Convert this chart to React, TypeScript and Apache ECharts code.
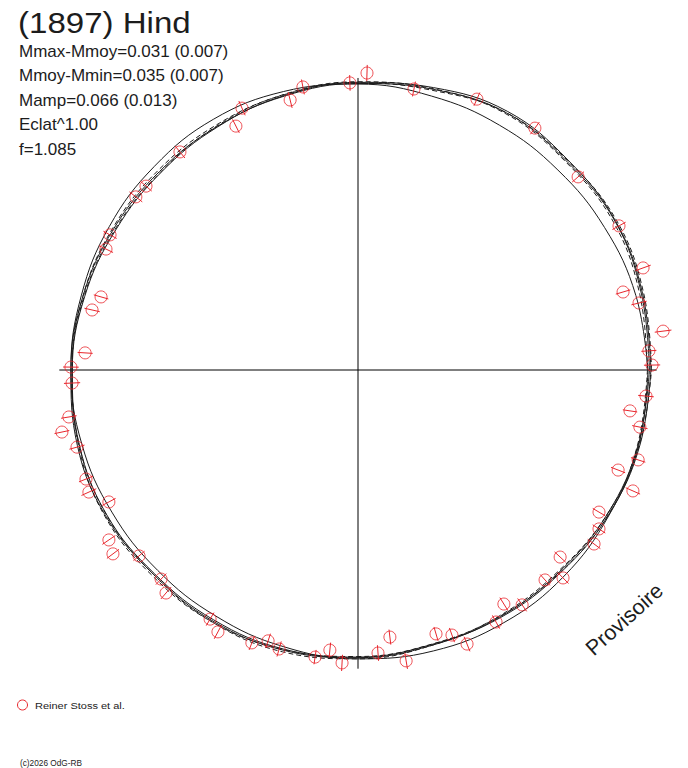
import React, { useEffect, useRef } from "react";
import * as echarts from "echarts";

const TITLE = "(1897) Hind";
const INFO_LINES = [
  "Mmax-Mmoy=0.031 (0.007)",
  "Mmoy-Mmin=0.035 (0.007)",
  "Mamp=0.066 (0.013)",
  "Eclat^1.00",
  "f=1.085",
];
const LEGEND_LABEL = "Reiner Stoss et al.";
const WATERMARK = "Provisoire";
const COPYRIGHT = "(c)2026 OdG-RB";

// observations (polar plot, unit = mean radius)
const POINT_X = [
  -0.4, -0.421, -0.234, -0.19, -0.028, 0.031, 0.193,
  0.41, 0.61, 0.759, 0.9, 0.983, 0.914, 0.969,
  1.052, 1.003, 1.014, 0.993, 0.938, 0.972, 0.966, 0.897,
  0.948, 0.831, 0.831, 0.814, 0.697, 0.707, 0.645,
  0.503, 0.566, 0.476, 0.269, 0.324, 0.376, 0.166,
  0.11, 0.069, -0.055, -0.097, -0.148, -0.272, -0.31, -0.366, -0.483, -0.51,
  -0.662, -0.679, -0.755, -0.845, -0.859, -0.859, -0.928, -0.938,
  -0.969, -1.021, -0.997, -0.986, -0.99, -0.941,
  -0.917, -0.886, -0.869, -0.855, -0.766, -0.731, -0.614,
];
const POINT_Y = [
  0.903, 0.841, 0.931, 0.976, 0.99, 1.024, 0.969,
  0.934, 0.834, 0.666, 0.497, 0.352, 0.269, 0.231,
  0.134, 0.066, 0.017, -0.09, -0.141, -0.197, -0.31, -0.345,
  -0.417, -0.49, -0.548, -0.6, -0.645, -0.717, -0.724,
  -0.807, -0.81, -0.869, -0.91, -0.914, -0.945, -1.003,
  -0.921, -0.976, -1.01, -0.966, -0.99, -0.962, -0.934, -0.941, -0.903, -0.859,
  -0.769, -0.721, -0.641, -0.634, -0.586, -0.455, -0.421, -0.376,
  -0.266, -0.214, -0.162, -0.045, 0.01, 0.059,
  0.207, 0.252, 0.417, 0.466, 0.597, 0.634, 0.752,
];
const POINT_ERR = [
  0.027, 0.026, 0.028, 0.026, 0.027, 0.028, 0.026,
  0.025, 0.026, 0.027, 0.026, 0.028, 0.026, 0.027,
  0.029, 0.026, 0.028, 0.027, 0.025, 0.027, 0.026, 0.026,
  0.027, 0.025, 0.026, 0.027, 0.026, 0.027, 0.025,
  0.026, 0.027, 0.026, 0.025, 0.026, 0.027, 0.028,
  0.026, 0.027, 0.028, 0.026, 0.025, 0.027, 0.026, 0.026, 0.027, 0.026,
  0.027, 0.026, 0.025, 0.026, 0.027, 0.026, 0.028, 0.026,
  0.027, 0.026, 0.027, 0.028, 0.027, 0.026,
  0.027, 0.026, 0.027, 0.026, 0.028, 0.026, 0.027,
];

// model curves: radius at each phase angle (degrees)
const CURVE_ANGLES = [0, 15, 30, 45, 60, 75, 90, 105, 120, 135, 150, 165, 180, 195, 210, 225, 240, 255, 270, 285, 300, 315, 330, 345];
const CURVE_A = [1.005, 1.012, 1.024, 1.018, 1.024, 1.002, 0.988, 0.978, 0.97, 0.968, 0.973, 0.982, 0.99, 1.002, 1.005, 0.997, 1.0, 1.0, 0.992, 0.983, 0.982, 0.983, 0.993, 1.0];
const CURVE_B = [1.012, 1.02, 1.03, 1.022, 1.024, 0.998, 0.99, 0.983, 0.976, 0.974, 0.977, 0.982, 0.986, 0.996, 1.001, 0.997, 1.004, 1.006, 0.996, 0.983, 0.978, 0.979, 0.993, 1.004];
const CURVE_C = [0.998, 1.006, 1.018, 1.014, 1.02, 1.004, 0.994, 0.984, 0.972, 0.964, 0.968, 0.978, 0.986, 0.998, 1.008, 1.003, 1.004, 0.998, 0.988, 0.979, 0.98, 0.986, 0.997, 0.998];
const CURVE_E = [1.01, 1.016, 1.026, 1.024, 1.03, 1.008, 0.992, 0.98, 0.968, 0.962, 0.965, 0.976, 0.985, 0.995, 1.0, 0.993, 0.995, 0.996, 0.99, 0.98, 0.985, 0.988, 0.998, 1.006];
const CURVE_D = [1.0, 0.992, 0.982, 0.975, 0.975, 0.978, 0.986, 0.994, 0.998, 0.993, 0.99, 0.988, 0.99, 0.986, 0.98, 0.977, 0.98, 0.988, 0.996, 1.003, 1.006, 1.005, 1.0, 1.002];

const AXIS_H = [[-1.03, 0], [1.03, 0]];
const AXIS_V = [[0, -1.03], [0, 1.007]];

const RED = "#e8262c";
const INK = "#1c1c1c";
const FONT = "Liberation Sans, Arial, sans-serif";

function curvePoints(radii: number[]) {
  const pts = CURVE_ANGLES.map((a, i) => {
    const t = (a * Math.PI) / 180;
    return [radii[i] * Math.cos(t), radii[i] * Math.sin(t)];
  });
  pts.push(pts[0]);
  return pts;
}

export default function App() {
  const ref = useRef<HTMLDivElement>(null);
  useEffect(() => {
    if (!ref.current) return;
    const chart = echarts.init(ref.current, undefined, { renderer: "svg" });
    const points = POINT_X.map((x, i) => [x, POINT_Y[i], POINT_ERR[i]]);
    const curveSeries = (radii: number[], dashed: boolean) => ({
      type: "line",
      data: curvePoints(radii),
      smooth: 0.4,
      showSymbol: false,
      silent: true,
      z: 2,
      lineStyle: { color: INK, width: 1, type: dashed ? [5, 3] : "solid" },
    });
    const rad = (d: number) => (d * Math.PI) / 180;
    const infoTexts = INFO_LINES.map((t, i) => ({
      type: "text",
      x: 19,
      y: 51 + i * 24.5,
      style: { text: t, font: `17px ${FONT}`, fill: INK, textAlign: "left", textVerticalAlign: "middle" },
    }));
    chart.setOption({
      animation: false,
      grid: { left: 39, top: 51, width: 638, height: 638 },
      xAxis: { type: "value", min: -1.1, max: 1.1, show: false },
      yAxis: { type: "value", min: -1.1, max: 1.1, show: false },
      series: [
        { type: "line", data: AXIS_H, showSymbol: false, silent: true, z: 1, lineStyle: { color: "#000", width: 1 } },
        { type: "line", data: AXIS_V, showSymbol: false, silent: true, z: 1, lineStyle: { color: "#000", width: 1 } },
        curveSeries(CURVE_A, false),
        curveSeries(CURVE_B, true),
        curveSeries(CURVE_C, true),
        curveSeries(CURVE_E, false),
        curveSeries(CURVE_D, false),
        {
          type: "custom",
          data: points,
          silent: true,
          z: 5,
          renderItem: (params: any, api: any) => {
            const x = api.value(0);
            const y = api.value(1);
            const e = api.value(2);
            const r = Math.hypot(x, y);
            const p1 = api.coord([x * (1 - e / r), y * (1 - e / r)]);
            const p2 = api.coord([x * (1 + e / r), y * (1 + e / r)]);
            return {
              type: "line",
              shape: { x1: p1[0], y1: p1[1], x2: p2[0], y2: p2[1] },
              style: { stroke: RED, lineWidth: 1 },
            };
          },
        },
        {
          type: "scatter",
          data: points.map((p) => [p[0], p[1]]),
          symbol: "circle",
          symbolSize: 12,
          silent: true,
          z: 6,
          itemStyle: { color: "rgba(0,0,0,0)", borderColor: RED, borderWidth: 1 },
        },
      ],
      graphic: [
        {
          type: "text",
          x: 18,
          y: 23,
          scaleX: 1.14,
          style: { text: TITLE, font: `29px ${FONT}`, fill: INK, textAlign: "left", textVerticalAlign: "middle" },
        },
        ...infoTexts,
        {
          type: "circle",
          shape: { cx: 22.5, cy: 705, r: 5 },
          style: { fill: "none", stroke: RED, lineWidth: 1 },
        },
        {
          type: "text",
          x: 35,
          y: 705.5,
          scaleX: 1.16,
          style: { text: LEGEND_LABEL, font: `9.5px ${FONT}`, fill: INK, textAlign: "left", textVerticalAlign: "middle" },
        },
        {
          type: "text",
          x: 20,
          y: 763,
          scaleX: 0.87,
          style: { text: COPYRIGHT, font: `9.5px ${FONT}`, fill: INK, textAlign: "left", textVerticalAlign: "middle" },
        },
        {
          type: "text",
          x: 589,
          y: 651.5,
          rotation: rad(42),
          style: { text: WATERMARK, font: `21.5px ${FONT}`, fill: INK, textAlign: "left", textVerticalAlign: "middle" },
        },
      ],
    });
    return () => chart.dispose();
  }, []);
  return (
    <div
      ref={ref}
      style={{ position: "fixed", left: 0, top: 0, width: 688, height: 768, background: "#fff" }}
    />
  );
}
